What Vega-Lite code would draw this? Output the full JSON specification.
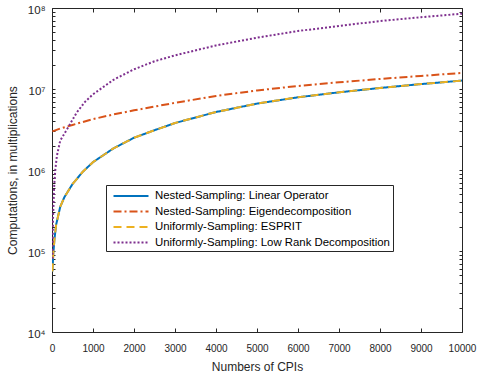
{
  "$schema": "https://vega.github.io/schema/vega-lite/v6.json",
  "autosize": "none",
  "width": 410,
  "height": 324,
  "padding": {"left": 52, "top": 8, "right": 15, "bottom": 44},
  "background": "white",
  "config": {
    "view": {"stroke": null},
    "font": "Liberation Sans",
    "axis": {"domainColor": "#262626", "tickColor": "#262626", "labelColor": "#262626", "titleColor": "#262626", "labelFont": "Liberation Sans", "titleFont": "Liberation Sans", "titleFontWeight": "normal", "grid": false, "labelFontSize": 10, "titleFontSize": 12}
  },
  "data": {"values": [
    {"N": 10, "v": 56000, "s": "Nested-Sampling: Linear Operator"},
    {"N": 30, "v": 90000, "s": "Nested-Sampling: Linear Operator"},
    {"N": 60, "v": 140000, "s": "Nested-Sampling: Linear Operator"},
    {"N": 100, "v": 210000, "s": "Nested-Sampling: Linear Operator"},
    {"N": 200, "v": 350000, "s": "Nested-Sampling: Linear Operator"},
    {"N": 300, "v": 460000, "s": "Nested-Sampling: Linear Operator"},
    {"N": 500, "v": 670000, "s": "Nested-Sampling: Linear Operator"},
    {"N": 750, "v": 950000, "s": "Nested-Sampling: Linear Operator"},
    {"N": 1000, "v": 1250000, "s": "Nested-Sampling: Linear Operator"},
    {"N": 1500, "v": 1850000, "s": "Nested-Sampling: Linear Operator"},
    {"N": 2000, "v": 2500000, "s": "Nested-Sampling: Linear Operator"},
    {"N": 2500, "v": 3100000, "s": "Nested-Sampling: Linear Operator"},
    {"N": 3000, "v": 3800000, "s": "Nested-Sampling: Linear Operator"},
    {"N": 4000, "v": 5200000, "s": "Nested-Sampling: Linear Operator"},
    {"N": 5000, "v": 6600000, "s": "Nested-Sampling: Linear Operator"},
    {"N": 6000, "v": 7900000, "s": "Nested-Sampling: Linear Operator"},
    {"N": 7000, "v": 9100000, "s": "Nested-Sampling: Linear Operator"},
    {"N": 8000, "v": 10300000, "s": "Nested-Sampling: Linear Operator"},
    {"N": 9000, "v": 11500000, "s": "Nested-Sampling: Linear Operator"},
    {"N": 10000, "v": 12700000, "s": "Nested-Sampling: Linear Operator"},

    {"N": 10, "v": 3000000, "s": "Nested-Sampling: Eigendecomposition"},
    {"N": 200, "v": 3250000, "s": "Nested-Sampling: Eigendecomposition"},
    {"N": 500, "v": 3600000, "s": "Nested-Sampling: Eigendecomposition"},
    {"N": 1000, "v": 4250000, "s": "Nested-Sampling: Eigendecomposition"},
    {"N": 1500, "v": 4850000, "s": "Nested-Sampling: Eigendecomposition"},
    {"N": 2000, "v": 5450000, "s": "Nested-Sampling: Eigendecomposition"},
    {"N": 3000, "v": 6750000, "s": "Nested-Sampling: Eigendecomposition"},
    {"N": 4000, "v": 8200000, "s": "Nested-Sampling: Eigendecomposition"},
    {"N": 5000, "v": 9600000, "s": "Nested-Sampling: Eigendecomposition"},
    {"N": 6000, "v": 10900000, "s": "Nested-Sampling: Eigendecomposition"},
    {"N": 7000, "v": 12100000, "s": "Nested-Sampling: Eigendecomposition"},
    {"N": 8000, "v": 13300000, "s": "Nested-Sampling: Eigendecomposition"},
    {"N": 9000, "v": 14500000, "s": "Nested-Sampling: Eigendecomposition"},
    {"N": 10000, "v": 15800000, "s": "Nested-Sampling: Eigendecomposition"},

    {"N": 10, "v": 56000, "s": "Uniformly-Sampling: ESPRIT"},
    {"N": 30, "v": 90000, "s": "Uniformly-Sampling: ESPRIT"},
    {"N": 60, "v": 140000, "s": "Uniformly-Sampling: ESPRIT"},
    {"N": 100, "v": 210000, "s": "Uniformly-Sampling: ESPRIT"},
    {"N": 200, "v": 350000, "s": "Uniformly-Sampling: ESPRIT"},
    {"N": 300, "v": 460000, "s": "Uniformly-Sampling: ESPRIT"},
    {"N": 500, "v": 670000, "s": "Uniformly-Sampling: ESPRIT"},
    {"N": 750, "v": 950000, "s": "Uniformly-Sampling: ESPRIT"},
    {"N": 1000, "v": 1250000, "s": "Uniformly-Sampling: ESPRIT"},
    {"N": 1500, "v": 1850000, "s": "Uniformly-Sampling: ESPRIT"},
    {"N": 2000, "v": 2500000, "s": "Uniformly-Sampling: ESPRIT"},
    {"N": 2500, "v": 3100000, "s": "Uniformly-Sampling: ESPRIT"},
    {"N": 3000, "v": 3800000, "s": "Uniformly-Sampling: ESPRIT"},
    {"N": 4000, "v": 5200000, "s": "Uniformly-Sampling: ESPRIT"},
    {"N": 5000, "v": 6600000, "s": "Uniformly-Sampling: ESPRIT"},
    {"N": 6000, "v": 7900000, "s": "Uniformly-Sampling: ESPRIT"},
    {"N": 7000, "v": 9100000, "s": "Uniformly-Sampling: ESPRIT"},
    {"N": 8000, "v": 10300000, "s": "Uniformly-Sampling: ESPRIT"},
    {"N": 9000, "v": 11500000, "s": "Uniformly-Sampling: ESPRIT"},
    {"N": 10000, "v": 12700000, "s": "Uniformly-Sampling: ESPRIT"},

    {"N": 10, "v": 80000, "s": "Uniformly-Sampling: Low Rank Decomposition"},
    {"N": 25, "v": 250000, "s": "Uniformly-Sampling: Low Rank Decomposition"},
    {"N": 50, "v": 600000, "s": "Uniformly-Sampling: Low Rank Decomposition"},
    {"N": 80, "v": 1000000, "s": "Uniformly-Sampling: Low Rank Decomposition"},
    {"N": 120, "v": 1500000, "s": "Uniformly-Sampling: Low Rank Decomposition"},
    {"N": 200, "v": 2300000, "s": "Uniformly-Sampling: Low Rank Decomposition"},
    {"N": 300, "v": 2800000, "s": "Uniformly-Sampling: Low Rank Decomposition"},
    {"N": 400, "v": 3400000, "s": "Uniformly-Sampling: Low Rank Decomposition"},
    {"N": 600, "v": 5100000, "s": "Uniformly-Sampling: Low Rank Decomposition"},
    {"N": 800, "v": 6900000, "s": "Uniformly-Sampling: Low Rank Decomposition"},
    {"N": 1000, "v": 8600000, "s": "Uniformly-Sampling: Low Rank Decomposition"},
    {"N": 1500, "v": 13000000, "s": "Uniformly-Sampling: Low Rank Decomposition"},
    {"N": 2000, "v": 17500000, "s": "Uniformly-Sampling: Low Rank Decomposition"},
    {"N": 2500, "v": 22000000, "s": "Uniformly-Sampling: Low Rank Decomposition"},
    {"N": 3000, "v": 26000000, "s": "Uniformly-Sampling: Low Rank Decomposition"},
    {"N": 4000, "v": 34500000, "s": "Uniformly-Sampling: Low Rank Decomposition"},
    {"N": 5000, "v": 43000000, "s": "Uniformly-Sampling: Low Rank Decomposition"},
    {"N": 6000, "v": 52000000, "s": "Uniformly-Sampling: Low Rank Decomposition"},
    {"N": 7000, "v": 60000000, "s": "Uniformly-Sampling: Low Rank Decomposition"},
    {"N": 8000, "v": 69000000, "s": "Uniformly-Sampling: Low Rank Decomposition"},
    {"N": 9000, "v": 77000000, "s": "Uniformly-Sampling: Low Rank Decomposition"},
    {"N": 10000, "v": 85000000, "s": "Uniformly-Sampling: Low Rank Decomposition"}
  ]},
  "layer": [
    {
      "mark": {"type": "line", "strokeWidth": 2, "clip": true},
      "encoding": {
        "x": {"field": "N", "type": "quantitative", "scale": {"domain": [0, 10000], "nice": false},
          "axis": {"title": "Numbers of CPIs", "format": "d", "values": [0,1000,2000,3000,4000,5000,6000,7000,8000,9000,10000], "tickSize": -4, "labelPadding": 15, "titlePadding": 8, "labelFlush": false, "labelOverlap": false}},
        "y": {"field": "v", "type": "quantitative", "scale": {"type": "log", "domain": [10000, 100000000], "nice": false},
          "axis": {"title": "Computations, in multiplications", "titlePadding": 8, "labelFontSize": 11.5,
            "values": [10000,20000,30000,40000,50000,60000,70000,80000,90000,100000,200000,300000,400000,500000,600000,700000,800000,900000,1000000,2000000,3000000,4000000,5000000,6000000,7000000,8000000,9000000,10000000,20000000,30000000,40000000,50000000,60000000,70000000,80000000,90000000,100000000],
            "labelExpr": "datum.value == 10000 ? '10⁴' : datum.value == 100000 ? '10⁵' : datum.value == 1000000 ? '10⁶' : datum.value == 10000000 ? '10⁷' : datum.value == 100000000 ? '10⁸' : ''",
            "tickSize": -3, "labelPadding": 10, "labelOffset": 2, "labelOverlap": false, "labelFlush": false}},
        "color": {"field": "s", "type": "nominal", "sort": null,
          "scale": {"domain": ["Nested-Sampling: Linear Operator", "Nested-Sampling: Eigendecomposition", "Uniformly-Sampling: ESPRIT", "Uniformly-Sampling: Low Rank Decomposition"],
                    "range": ["#0072BD", "#D95319", "#EDB120", "#7E2F8E"]},
          "legend": {"title": null, "orient": "none", "legendX": 54, "legendY": 177, "strokeColor": "#262626", "fillColor": "white", "padding": 3, "labelFontSize": 11.4, "labelColor": "#000000", "labelLimit": 400, "symbolType": "M-2.5,0H2.5", "symbolSize": 196, "symbolStrokeWidth": 2, "symbolOffset": 14, "rowPadding": 1.5, "labelOffset": 16}},
        "strokeDash": {"field": "s", "type": "nominal", "sort": null,
          "scale": {"domain": ["Nested-Sampling: Linear Operator", "Nested-Sampling: Eigendecomposition", "Uniformly-Sampling: ESPRIT", "Uniformly-Sampling: Low Rank Decomposition"],
                    "range": [[1, 0], [8, 3, 2, 3], [8, 5], [2, 2]]},
          "legend": {"title": null, "orient": "none", "legendX": 54, "legendY": 177, "strokeColor": "#262626", "fillColor": "white", "padding": 3, "labelFontSize": 11.4, "labelColor": "#000000", "labelLimit": 400, "symbolType": "M-2.5,0H2.5", "symbolSize": 196, "symbolStrokeWidth": 2, "symbolOffset": 14, "rowPadding": 1.5, "labelOffset": 16}}
      }
    },
    {
      "mark": {"type": "line", "opacity": 0},
      "encoding": {
        "x": {"field": "N", "type": "quantitative", "scale": {"domain": [0, 10000], "nice": false},
          "axis": {"orient": "top", "title": null, "labels": false, "values": [0,1000,2000,3000,4000,5000,6000,7000,8000,9000,10000], "tickSize": -4}},
        "y": {"field": "v", "type": "quantitative", "scale": {"type": "log", "domain": [10000, 100000000], "nice": false},
          "axis": {"orient": "right", "title": null, "labels": false, "tickSize": -3,
            "values": [10000,20000,30000,40000,50000,60000,70000,80000,90000,100000,200000,300000,400000,500000,600000,700000,800000,900000,1000000,2000000,3000000,4000000,5000000,6000000,7000000,8000000,9000000,10000000,20000000,30000000,40000000,50000000,60000000,70000000,80000000,90000000,100000000]}},
        "detail": {"field": "s"}
      }
    }
  ],
  "resolve": {"axis": {"x": "independent", "y": "independent"}}
}
